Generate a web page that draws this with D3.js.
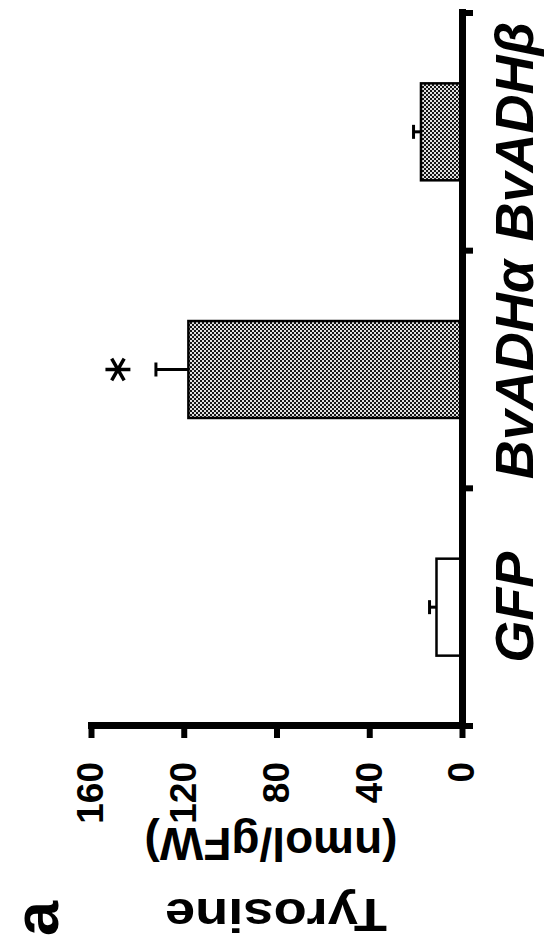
<!DOCTYPE html>
<html>
<head>
<meta charset="utf-8">
<script src="https://cdn.jsdelivr.net/npm/d3@7"></script>
<style>
  body { margin: 0; background: #fff; }
  svg { display: block; font-family: "Liberation Sans", Arial, sans-serif; }
</style>
</head>
<body>
<div id="chart"></div>
<script>
// data (panel a)
var categories = ["GFP", "BvADHα", "BvADHβ"];
var means = [11, 118, 17.7];
var errors = [3, 14, 3.2];
var signif = ["", "*", ""];
var yTicks = [0, 40, 80, 120, 160];
var fills = ["white", "url(#dots)", "url(#dots)"];

var W = 544, H = 946;

var svg = d3
  .select("#chart")
  .append("svg")
  .attr("width", W)
  .attr("height", H);

svg.append("rect").attr("width", W).attr("height", H).attr("fill", "#fff");

// halftone grey used for the two BvADH bars
var pat = svg
  .append("defs")
  .append("pattern")
  .attr("id", "dots")
  .attr("patternUnits", "userSpaceOnUse")
  .attr("width", 4)
  .attr("height", 4);
pat.append("rect").attr("width", 4).attr("height", 4).attr("fill", "#e0e0e0");
pat.append("rect").attr("width", 2).attr("height", 2).attr("fill", "#151515");
pat.append("rect").attr("x", 2).attr("y", 2).attr("width", 2).attr("height", 2).attr("fill", "#151515");

// the whole figure is turned a quarter turn to the left
var g = svg
  .append("g")
  .attr("transform", "translate(0," + H + ") rotate(-90)");

var x = d3
  .scaleBand()
  .domain(categories)
  .range([220, 933])
  .paddingInner(0.592)
  .paddingOuter(0.296);

var y = d3.scaleLinear().domain([0, 160]).range([462, 91]);

// bars
g.selectAll(".bar")
  .data(categories)
  .enter()
  .append("rect")
  .attr("class", "bar")
  .attr("x", function (d) { return x(d); })
  .attr("y", function (d, i) { return y(means[i]); })
  .attr("width", x.bandwidth())
  .attr("height", function (d, i) { return y(0) - y(means[i]); })
  .attr("fill", function (d, i) { return fills[i]; })
  .attr("stroke", "#000")
  .attr("stroke-width", 2.5);

// error bars (upper only)
var eb = g.selectAll(".err").data(categories).enter().append("g").attr("class", "err");
eb.append("line")
  .attr("x1", function (d) { return x(d) + x.bandwidth() / 2; })
  .attr("x2", function (d) { return x(d) + x.bandwidth() / 2; })
  .attr("y1", function (d, i) { return y(means[i]); })
  .attr("y2", function (d, i) { return y(means[i] + errors[i]); })
  .attr("stroke", "#000")
  .attr("stroke-width", 3);
eb.append("line")
  .attr("x1", function (d) { return x(d) + x.bandwidth() / 2 - 7; })
  .attr("x2", function (d) { return x(d) + x.bandwidth() / 2 + 7; })
  .attr("y1", function (d, i) { return y(means[i] + errors[i]); })
  .attr("y2", function (d, i) { return y(means[i] + errors[i]); })
  .attr("stroke", "#000")
  .attr("stroke-width", 3);

// significance star
g.selectAll(".star")
  .data(categories.filter(function (d, i) { return signif[i]; }))
  .enter()
  .append("path")
  .attr("class", "star")
  .attr("d", d3.symbol().type(d3.symbolAsterisk).size(440))
  .attr("transform", function (d) {
    var i = categories.indexOf(d);
    return "translate(" + (x(d) + x.bandwidth() / 2) + "," + (y(means[i] + errors[i]) - 38) + ")";
  })
  .attr("fill", "none")
  .attr("stroke", "#000")
  .attr("stroke-width", 3.5);

// value axis
var yAxis = g
  .append("g")
  .attr("transform", "translate(220,0)")
  .call(d3.axisLeft(y).tickValues(yTicks).tickSize(12).tickSizeOuter(0).tickPadding(24));
yAxis.select(".domain").attr("stroke-width", 7).attr("stroke-linecap", "square");
yAxis.selectAll(".tick line").attr("stroke-width", 6);
yAxis.selectAll(".tick text")
  .attr("font-size", 37)
  .attr("font-weight", "bold")
  .attr("font-family", "Liberation Sans, Arial, sans-serif");

// category axis
var xAxis = g
  .append("g")
  .attr("transform", "translate(0," + y(0) + ")")
  .call(d3.axisBottom(x).tickSize(0).tickSizeOuter(0).tickPadding(33));
xAxis.select(".domain").attr("stroke-width", 7).attr("stroke-linecap", "square");
xAxis.selectAll(".tick text")
  .attr("font-size", 54)
  .attr("font-weight", "bold")
  .attr("font-style", "italic")
  .attr("font-family", "Liberation Sans, Arial, sans-serif");

// ticks between the groups
xAxis
  .selectAll(".sep")
  .data(d3.range(categories.length + 1))
  .enter()
  .append("line")
  .attr("class", "sep")
  .attr("x1", function (i) { return x.range()[0] + i * x.step(); })
  .attr("x2", function (i) { return x.range()[0] + i * x.step(); })
  .attr("y1", 0)
  .attr("y2", 11)
  .attr("stroke", "#000")
  .attr("stroke-width", 6);

// axis title
var title = g
  .append("text")
  .attr("text-anchor", "middle")
  .attr("font-size", 46)
  .attr("font-weight", "bold")
  .attr("transform", "rotate(-90)");
title.append("tspan")
  .attr("x", -276)
  .attr("y", 47)
  .attr("textLength", 222)
  .attr("lengthAdjust", "spacingAndGlyphs")
  .text("Tyrosine");
title.append("tspan").attr("x", -271).attr("y", 118).text("(nmol/gFW)");

// panel letter
g.append("text")
  .attr("x", 10)
  .attr("y", 58)
  .attr("font-size", 63)
  .attr("font-weight", "bold")
  .text("a");
</script>
</body>
</html>
